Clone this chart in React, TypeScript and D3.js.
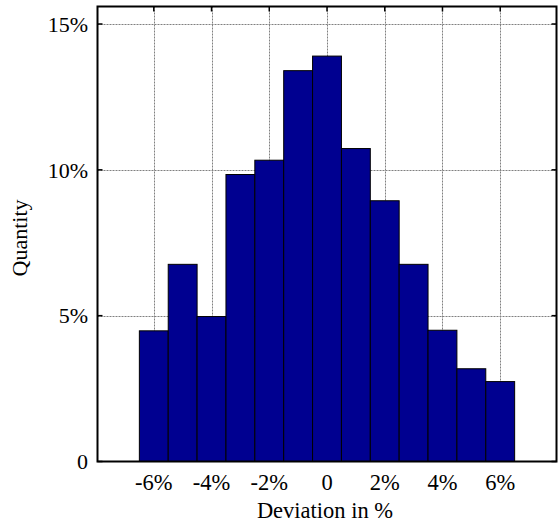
import React, { useEffect, useRef } from "react";
import * as d3 from "d3";

const width = 558;
const height = 523;

// bin centres (deviation in %) and share of the sample in each bin (%)
const binCenters = [-6, -5, -4, -3, -2, -1, 0, 1, 2, 3, 4, 5, 6];
const quantities = [4.48, 6.76, 4.97, 9.84, 10.33, 13.4, 13.9, 10.73, 8.94, 6.76, 4.5, 3.18, 2.74];

const xTicks = [-6, -4, -2, 0, 2, 4, 6];
const xTickLabels = ["-6%", "-4%", "-2%", "0", "2%", "4%", "6%"];
const yTicks = [0, 5, 10, 15];
const yTickLabels = ["0", "5%", "10%", "15%"];

const plot = { left: 97.5, right: 556.5, top: 6.5, bottom: 461.5 };
const font = "'Liberation Serif', 'Times New Roman', serif";

const App = () => {
  const ref = useRef<SVGSVGElement>(null);

  useEffect(() => {
    const svg = d3.select(ref.current);
    svg.selectAll("*").remove();

    const x = d3.scaleLinear().domain([-7.95, 7.95]).range([plot.left, plot.right]);
    const y = d3.scaleLinear().domain([0, 15.6]).range([plot.bottom, plot.top]);

    // grid
    const grid = svg.append("g").attr("stroke", "#808080").attr("stroke-width", 1).attr("stroke-dasharray", "2,1");
    grid
      .selectAll("line.vx")
      .data(xTicks)
      .join("line")
      .attr("x1", (d) => Math.round(x(d)) + 0.5)
      .attr("x2", (d) => Math.round(x(d)) + 0.5)
      .attr("y1", plot.top)
      .attr("y2", plot.bottom);
    grid
      .selectAll("line.hy")
      .data(yTicks.filter((d) => d > 0))
      .join("line")
      .attr("x1", plot.left)
      .attr("x2", plot.right)
      .attr("y1", (d) => Math.round(y(d)) + 0.5)
      .attr("y2", (d) => Math.round(y(d)) + 0.5);

    // bars
    svg
      .append("g")
      .selectAll("rect")
      .data(binCenters)
      .join("rect")
      .attr("x", (d) => x(d - 0.5))
      .attr("width", (d) => x(d + 0.5) - x(d - 0.5))
      .attr("y", (d, i) => y(quantities[i]))
      .attr("height", (d, i) => y(0) - y(quantities[i]))
      .attr("fill", "#000090")
      .attr("stroke", "#000")
      .attr("stroke-width", 1);

    // frame
    svg
      .append("rect")
      .attr("x", plot.left)
      .attr("y", plot.top)
      .attr("width", plot.right - plot.left)
      .attr("height", plot.bottom - plot.top)
      .attr("fill", "none")
      .attr("stroke", "#000")
      .attr("stroke-width", 2);

    // inward ticks
    const ticks = svg.append("g").attr("stroke", "#000").attr("stroke-width", 1.5);
    ticks
      .selectAll("line.tt")
      .data(xTicks)
      .join("line")
      .attr("x1", (d) => x(d))
      .attr("x2", (d) => x(d))
      .attr("y1", plot.top)
      .attr("y2", plot.top + 5);
    ticks
      .selectAll("line.lt")
      .data(yTicks)
      .join("line")
      .attr("x1", plot.left)
      .attr("x2", plot.left + 5)
      .attr("y1", (d) => y(d))
      .attr("y2", (d) => y(d));
    ticks
      .selectAll("line.rt")
      .data(yTicks)
      .join("line")
      .attr("x1", plot.right - 5)
      .attr("x2", plot.right)
      .attr("y1", (d) => y(d))
      .attr("y2", (d) => y(d));

    // tick labels
    svg
      .append("g")
      .selectAll("text")
      .data(yTicks)
      .join("text")
      .text((d, i) => yTickLabels[i])
      .attr("x", 88)
      .attr("y", (d) => y(d))
      .attr("dy", "0.35em")
      .attr("text-anchor", "end")
      .attr("font-family", font)
      .attr("font-size", 22);

    svg
      .append("g")
      .selectAll("text")
      .data(xTicks)
      .join("text")
      .text((d, i) => xTickLabels[i])
      .attr("x", (d) => x(d))
      .attr("y", 490)
      .attr("text-anchor", "middle")
      .attr("font-family", font)
      .attr("font-size", 22.5);

    // axis titles
    svg
      .append("text")
      .text("Deviation in %")
      .attr("x", 325)
      .attr("y", 518)
      .attr("text-anchor", "middle")
      .attr("font-family", font)
      .attr("font-size", 22.5);

    svg
      .append("text")
      .text("Quantity")
      .attr("transform", "translate(27,238) rotate(-90)")
      .attr("text-anchor", "middle")
      .attr("font-family", font)
      .attr("font-size", 22);
  }, []);

  return (
    <svg
      ref={ref}
      width={width}
      height={height}
      style={{ position: "absolute", left: 0, top: 0, background: "#fff" }}
    ></svg>
  );
};

export default App;
